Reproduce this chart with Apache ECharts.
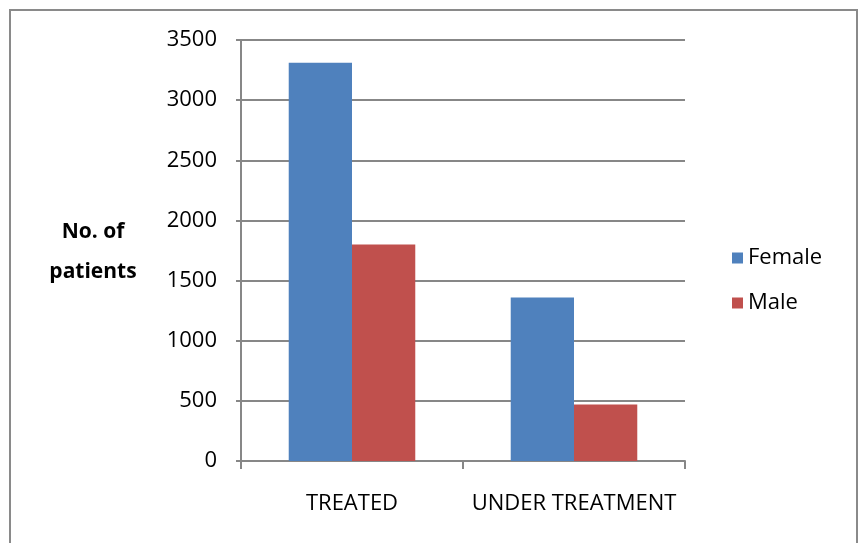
<!DOCTYPE html>
<html>
<head>
<meta charset="utf-8">
<script src="https://cdn.jsdelivr.net/npm/echarts@6/dist/echarts.min.js"></script>
<style>
html, body { margin: 0; padding: 0; background: #fff; }
#chart { width: 859px; height: 543px; }
</style>
</head>
<body>
<div id="chart"></div>
<script>
// Patients by treatment status and sex
const categories = ['TREATED', 'UNDER TREATMENT'];
const femaleValues = [3310, 1360];
const maleValues = [1800, 470];
const yTicks = { min: 0, max: 3500, interval: 500 };

const FONT = '"Open Sans", "Liberation Sans", sans-serif';
const GRID_COLOR = '#878787';

const chart = echarts.init(document.getElementById('chart'));
chart.setOption({
  animation: false,
  backgroundColor: '#ffffff',
  grid: { left: 241, right: 174, top: 40, bottom: 82 },
  legend: {
    orient: 'vertical',
    left: 727,
    top: 242,
    itemWidth: 11,
    itemHeight: 11,
    itemGap: 23,
    icon: 'rect',
    textStyle: { fontFamily: FONT, fontSize: 22, color: '#000' },
    data: ['Female', 'Male']
  },
  xAxis: {
    type: 'category',
    data: categories,
    axisLine: { lineStyle: { color: GRID_COLOR, width: 2 } },
    axisTick: { show: true, length: 8, lineStyle: { color: GRID_COLOR, width: 2 } },
    axisLabel: { fontFamily: FONT, fontSize: 22, color: '#000', margin: 32, interval: 0 }
  },
  yAxis: {
    type: 'value',
    min: yTicks.min,
    max: yTicks.max,
    interval: yTicks.interval,
    axisLine: { show: true, lineStyle: { color: GRID_COLOR, width: 2 } },
    axisTick: { show: true, length: 5, lineStyle: { color: GRID_COLOR, width: 2 } },
    axisLabel: { fontFamily: FONT, fontSize: 22, color: '#000', margin: 24, formatter: v => String(v) },
    splitLine: { lineStyle: { color: GRID_COLOR, width: 2 } }
  },
  series: [
    {
      name: 'Female',
      type: 'bar',
      data: femaleValues,
      barGap: '0%',
      barCategoryGap: '43%',
      itemStyle: { color: '#4f81bd' }
    },
    {
      name: 'Male',
      type: 'bar',
      data: maleValues,
      itemStyle: { color: '#c0504d' }
    }
  ],
  graphic: [
    {
      type: 'rect',
      shape: { x: 10, y: 10, width: 847, height: 600 },
      style: { fill: 'none', stroke: '#8a8a8a', lineWidth: 2 },
      silent: true
    },
    {
      type: 'text',
      x: 93,
      y: 252,
      style: {
        text: 'No. of\npatients',
        textAlign: 'center',
        textVerticalAlign: 'middle',
        fontFamily: FONT,
        fontWeight: 'bold',
        fontSize: 21,
        lineHeight: 40,
        fill: '#000'
      }
    }
  ]
});
</script>
</body>
</html>
